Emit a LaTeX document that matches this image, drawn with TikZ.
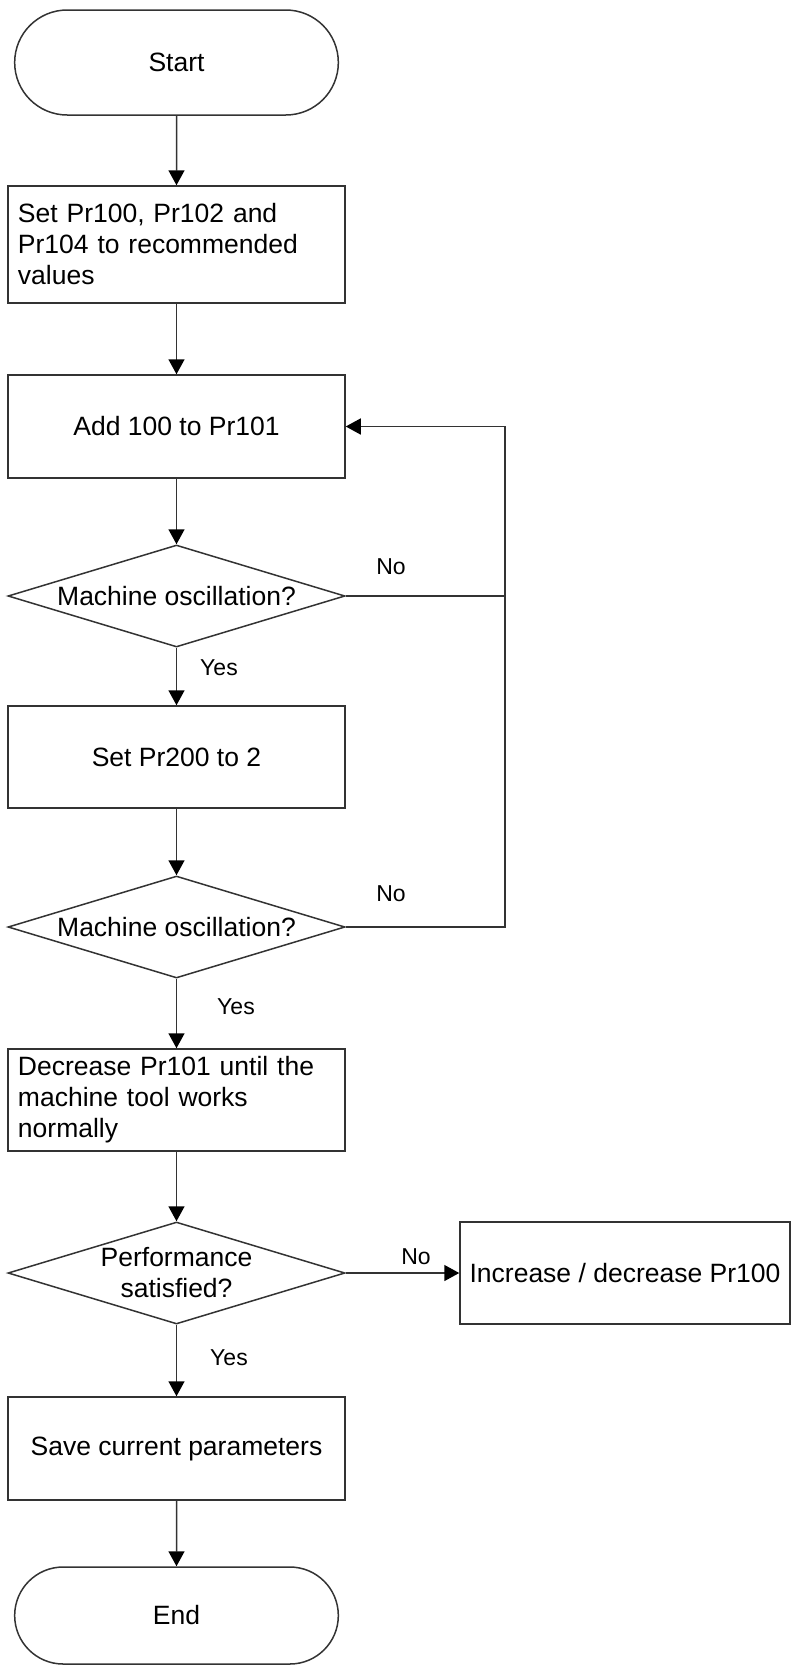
\documentclass[tikz,border=0pt]{standalone}
\usepackage{fontspec}
\setmainfont{Liberation Sans}
\usetikzlibrary{shapes.geometric,shapes.misc,arrows.meta}

\begin{document}
\begin{tikzpicture}[x=0.5pt, y=-0.5pt,
    >={Triangle[length=7.5pt,width=8pt,fill=black,color=black]},
    every node/.style={font=\fontsize{13.25pt}{15.5pt}\selectfont},
    line/.style={draw=black!80, line width=0.75pt},
    flow/.style={line, ->},
    term/.style={line, rounded rectangle, minimum width=168.5pt, minimum height=52.5pt},
    proc/.style={line, rectangle, minimum width=168.5pt, minimum height=51pt},
    textproc/.style={proc, text width=158.5pt, align=left, inner xsep=5pt},
    decide/.style={line, diamond, aspect=3.3, inner sep=0pt, align=center,
                   minimum width=168.5pt, minimum height=51pt},
    answer/.style={font=\fontsize{11.5pt}{13pt}\selectfont}]

\useasboundingbox (0, 0) rectangle (791, 1666);

% main column
\node [term] (start) at (176.5, 62.5) {Start};
\node [textproc, minimum height=58.5pt] (preset) at (176.5, 244.5)
      {Set Pr100, Pr102 and\\ Pr104 to recommended\\ values};
\node [proc, minimum height=51.5pt] (add) at (176.5, 426.5) {Add 100 to Pr101};
\node [decide] (osc1) at (176.5, 596) {Machine oscillation?};
\node [proc] (pr200) at (176.5, 757) {Set Pr200 to 2};
\node [decide] (osc2) at (176.5, 927) {Machine oscillation?};
\node [textproc] (reduce) at (176.5, 1100)
      {Decrease Pr101 until the\\ machine tool works\\ normally};
\node [decide] (perf) at (176.5, 1273) {Performance\\ satisfied?};
\node [proc, minimum width=165pt] (tune) at (625, 1273) {Increase / decrease Pr100};
\node [proc, minimum height=51.5pt] (save) at (176.5, 1448.5) {Save current parameters};
\node [term, minimum height=48.5pt] (end) at (176.5, 1615.5) {End};

\draw [flow] (start) -- (preset);
\draw [flow] (preset) -- (add);
\draw [flow] (add) -- (osc1);
\draw [flow] (osc1) -- (pr200);
\draw [flow] (pr200) -- (osc2);
\draw [flow] (osc2) -- (reduce);
\draw [flow] (reduce) -- (perf);
\draw [flow] (perf) -- (tune);
\draw [flow] (perf) -- (save);
\draw [flow] (save) -- (end);

% loop back on "No"
\coordinate (back) at (505, 426.5);
\draw [flow] (osc2.east) -| (back) -- (add.east);
\draw [line] (osc1.east) -- (osc1.east -| back);

% branch labels
\node [answer] (no1) at (391, 567) {No};
\node [answer] (yes1) at (219, 668) {Yes};
\node [answer] (no2) at (391, 894) {No};
\node [answer] (yes2) at (236, 1007) {Yes};
\node [answer] (no3) at (416, 1257) {No};
\node [answer] (yes3) at (229, 1358) {Yes};

\end{tikzpicture}
\end{document}
